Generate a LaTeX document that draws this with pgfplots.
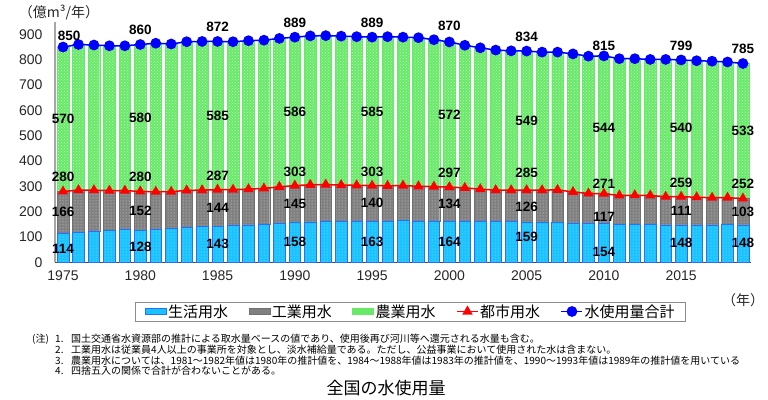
\documentclass[border=0pt]{standalone}
\usepackage{fontspec}
\setmainfont{Liberation Sans}
\newfontfamily\cjk{Noto Sans CJK JP}
\usepackage{pgfplots}
\pgfplotsset{compat=1.18}
\usepackage{pgfplotstable}
\usetikzlibrary{patterns}
\definecolor{domc}{RGB}{25,195,255}
\definecolor{domedge}{RGB}{40,110,255}
\definecolor{indc}{RGB}{128,128,128}
\definecolor{indedge}{RGB}{112,112,112}
\definecolor{agrc}{RGB}{105,232,105}
\definecolor{agrdot}{RGB}{185,255,185}

\pgfplotsset{
  boxlegend/.style={legend image code/.code={\draw[##1] (0pt,-3pt) rectangle (21pt,3pt);}},
  linelegend/.style={legend image code/.code={\draw[mark repeat=2,mark phase=2,##1] plot coordinates {(0pt,0pt) (10.5pt,0pt) (21pt,0pt)};}},
}

\pgfplotstableread{
year dom ind agr urban total
1975 114 166 570 280 850
1976 120 165 575 285 860
1977 123 162 573 285 858
1978 125 158 572 283 855
1979 129 154 572 283 855
1980 128 152 580 280 860
1981 130 149 586 279 865
1982 133 146 583 279 862
1983 139 145 587 284 871
1984 141 144 587 285 872
1985 143 144 585 287 872
1986 145 142 584 287 871
1987 148 141 586 289 875
1988 150 142 585 292 877
1989 155 143 586 298 884
1990 158 145 586 303 889
1991 160 146 588 306 894
1992 162 145 588 307 895
1993 162 143 588 305 893
1994 164 140 587 304 891
1995 163 140 586 303 889
1996 164 138 589 302 891
1997 165 138 586 303 889
1998 164 136 587 300 887
1999 164 135 580 299 879
2000 164 133 573 297 870
2001 164 130 563 294 857
2002 163 126 558 289 847
2003 162 123 553 285 838
2004 161 124 550 285 835
2005 159 126 549 285 834
2006 158 127 545 285 830
2007 158 128 544 286 830
2008 156 122 545 278 823
2009 154 118 542 272 814
2010 154 117 544 271 815
2011 151 113 540 264 804
2012 151 114 539 265 804
2013 150 114 537 264 801
2014 148 111 542 259 801
2015 148 111 540 259 799
2016 148 109 539 257 796
2017 148 107 539 255 794
2018 149 106 536 255 791
2019 148 104 533 252 785
}\datatable

\pgfplotstableread{
x y lab
1975 55 114
1980 62 128
1985 71 143
1990 79 158
1995 79 163
2000 80 164
2005 99 159
2010 42 154
2015 75 148
2019 75 148
1975 200 166
1980 204 152
1985 216 144
1990 230 145
1995 233 140
2000 229 134
2005 220 126
2010 180 117
2015 204 111
2019 200 103
1975 566 570
1980 572 580
1985 579 585
1990 595 586
1995 596 585
2000 584 572
2005 559 549
2010 529 544
2015 529 540
2019 520 533
1975 336 280
1980 336 280
1985 343 287
1990 358 303
1995 358 303
2000 354 297
2005 355 285
2010 312 271
2015 314 259
2019 308 252
1975.4 893 850
1980 917 860
1985 930 872
1990 946 889
1995 946 889
2000 933 870
2005 891 834
2010 854 815
2015 855 799
2019 841 785
}\labeltable

\begin{document}
\begin{tikzpicture}[x=1pt,y=1pt]
\useasboundingbox (-55,-136.7) rectangle (713,262.3);
\begin{axis}[
  at={(0,0)}, anchor=south west, scale only axis,
  width=696pt, height=240.6pt,
  xmin=1974.48, xmax=2019.52, ymin=0, ymax=950,
  ybar stacked, bar width=0.75,
  axis x line*=bottom, axis y line*=left,
  every outer x axis line/.append style={-},
  every outer y axis line/.append style={-},
  x axis line style={draw=black!70, line width=1.2pt},
  y axis line style={draw=black!35, line width=1.2pt},
  major tick length=0pt,
  ytick={0,100,...,900},
  xtick={1975,1980,...,2015},
  xticklabels={1975,1980,1985,1990,1995,2000,2005,2010,2015},
  /pgf/number format/assume math mode=true,
  tick label style={font=\fontsize{14}{16}\selectfont, text=black!85},
  yticklabel style={xshift=-9pt},
  xticklabel style={yshift=-5pt},
]
\addplot[fill=domc, draw=domedge, line width=0.5pt,
  postaction={pattern=dots, pattern color=white!60!domc}] table[x=year, y=dom] {\datatable};
\addplot[fill=indc, draw=indedge, line width=0.4pt,
  postaction={pattern=dots, pattern color=white!75!indc}] table[x=year, y=ind] {\datatable};
\addplot[fill=agrc, draw=agrc, line width=0.4pt,
  postaction={pattern=crosshatch dots, pattern color=agrdot}] table[x=year, y=agr] {\datatable};
\end{axis}
\begin{axis}[
  at={(0,0)}, anchor=south west, scale only axis,
  width=696pt, height=240.6pt,
  xmin=1974.48, xmax=2019.52, ymin=0, ymax=950,
  hide axis, clip=false,
  legend columns=5,
  legend style={at={(0.5108,-0.2045)}, anchor=center, draw=black!45, line width=0.8pt,
    font=\cjk\fontsize{15}{16}\selectfont, inner xsep=9pt, inner ysep=1.5pt,
    /tikz/every even column/.append style={column sep=19pt},
    nodes={inner xsep=1.5pt, inner ysep=1pt}},
]
\addlegendimage{boxlegend, fill=domc, draw=domedge}
\addlegendentry{生活用水}
\addlegendimage{boxlegend, fill=indc, draw=indedge}
\addlegendentry{工業用水}
\addlegendimage{boxlegend, fill=agrc, draw=agrc}
\addlegendentry{農業用水}
\addplot[color=red, line width=1.5pt, mark=triangle*, mark size=4.5pt, mark options={solid}, linelegend]
  table[x=year, y=urban] {\datatable};
\addlegendentry{都市用水}
\addplot[color=blue, line width=1.5pt, mark=*, mark size=4.6pt, mark options={solid}, linelegend]
  table[x=year, y=total] {\datatable};
\addlegendentry{水使用量合計}
\addplot[draw=none, mark=none, forget plot, nodes near coords, point meta=explicit symbolic,
  nodes near coords style={anchor=center, inner sep=0pt, text=black,
    font=\bfseries\fontsize{13.5}{14}\selectfont}]
  table[x=x, y=y, meta=lab] {\labeltable};
\end{axis}
\node[font=\cjk\fontsize{14}{16}\selectfont, text=black!85] at (4,249.3) {（億m³/年）};
\node[font=\cjk\fontsize{14}{16}\selectfont, text=black!85] at (688,-37.7) {（年）};
\begin{scope}[every node/.style={anchor=west, inner sep=0pt, font=\cjk\fontsize{10}{11}\selectfont}]
\node at (-23,-76.7) {(注)};
\node at (0,-76.7) {1.};
\node at (0,-87.7) {2.};
\node at (0,-98.7) {3.};
\node at (0,-108.7) {4.};
\node at (16,-76.7) {国土交通省水資源部の推計による取水量ベースの値であり、使用後再び河川等へ還元される水量も含む。};
\node at (16,-87.7) {工業用水は従業員4人以上の事業所を対象とし、淡水補給量である。ただし、公益事業において使用された水は含まない。};
\node at (16,-98.7) {農業用水については、1981～1982年値は1980年の推計値を、1984～1988年値は1983年の推計値を、1990～1993年値は1989年の推計値を用いている};
\node at (16,-108.7) {四捨五入の関係で合計が合わないことがある。};
\end{scope}
\node[font=\cjk\fontsize{17}{19}\selectfont] at (331,-125.7) {全国の水使用量};
\end{tikzpicture}
\end{document}
